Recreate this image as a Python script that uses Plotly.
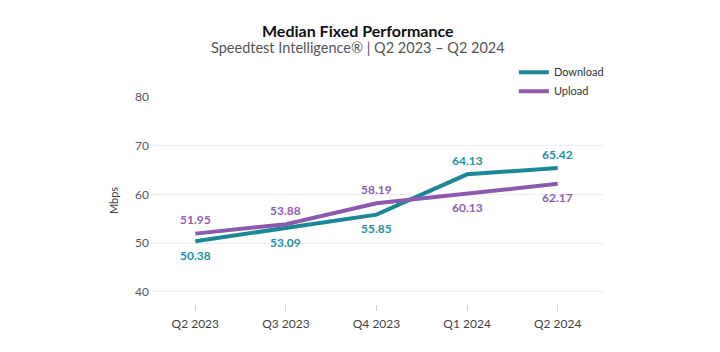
import plotly.graph_objects as go

categories = ["Q2 2023", "Q3 2023", "Q4 2023", "Q1 2024", "Q2 2024"]
download = [50.38, 53.09, 55.85, 64.13, 65.42]
upload = [51.95, 53.88, 58.19, 60.13, 62.17]
download_below = [True, True, True, False, False]
upload_below = [False, False, False, True, True]
y_ticks = [40, 50, 60, 70, 80]

DL = "#1b8797"
UL = "#8c5aad"
FONT = "Lato"

fig = go.Figure()
fig.add_trace(go.Scatter(
    x=categories, y=download, name="Download", mode="lines",
    line=dict(color=DL, width=4),
))
fig.add_trace(go.Scatter(
    x=categories, y=upload, name="Upload", mode="lines",
    line=dict(color=UL, width=4),
))

for vals, below, col in [
    (download, download_below, "#2392a2"),
    (upload, upload_below, "#9360b4"),
]:
    for c, v, b in zip(categories, vals, below):
        fig.add_annotation(
            x=c, y=v, text=f"<b>{v:.2f}</b>", showarrow=False,
            yshift=-14 if b else 14,
            font=dict(family=FONT, size=12, color=col),
        )

# title and subtitle
fig.add_annotation(
    xref="paper", yref="paper", x=0.459, y=1.319, yanchor="middle",
    text="<b>Median Fixed Performance</b>", showarrow=False,
    font=dict(family=FONT, size=16, color="#111111"),
)
fig.add_annotation(
    xref="paper", yref="paper", x=0.459, y=1.237, yanchor="middle",
    text="Speedtest Intelligence® | Q2 2023 – Q2 2024", showarrow=False,
    font=dict(family=FONT, size=14.5, color="#555555"),
)

fig.update_layout(
    width=720, height=352,
    margin=dict(l=150, r=117, t=97, b=48),
    paper_bgcolor="white", plot_bgcolor="white",
    font=dict(family=FONT, color="#555555", size=12),
    legend=dict(
        x=1.013, xanchor="right", y=1.19, yanchor="top",
        bgcolor="rgba(0,0,0,0)", font=dict(size=11, color="#333333"),
        tracegroupgap=0, itemwidth=30,
    ),
    showlegend=True,
)
fig.update_xaxes(
    type="category", range=[-0.5, 4.5],
    showgrid=False, zeroline=False, showline=False,
    ticks="outside", ticklen=6, tickcolor="#cccccc", tickwidth=1,
    ticklabelstandoff=3,
    tickfont=dict(size=12, color="#444444"),
)
fig.update_yaxes(
    range=[37.5, 80], tickvals=y_ticks,
    showgrid=True, gridcolor="#ececf2", gridwidth=1,
    zeroline=False, showline=False,
    title=dict(text="Mbps", font=dict(size=11, color="#444444"), standoff=14),
    tickfont=dict(size=12, color="#555555"),
)

fig.write_html("out.html")
